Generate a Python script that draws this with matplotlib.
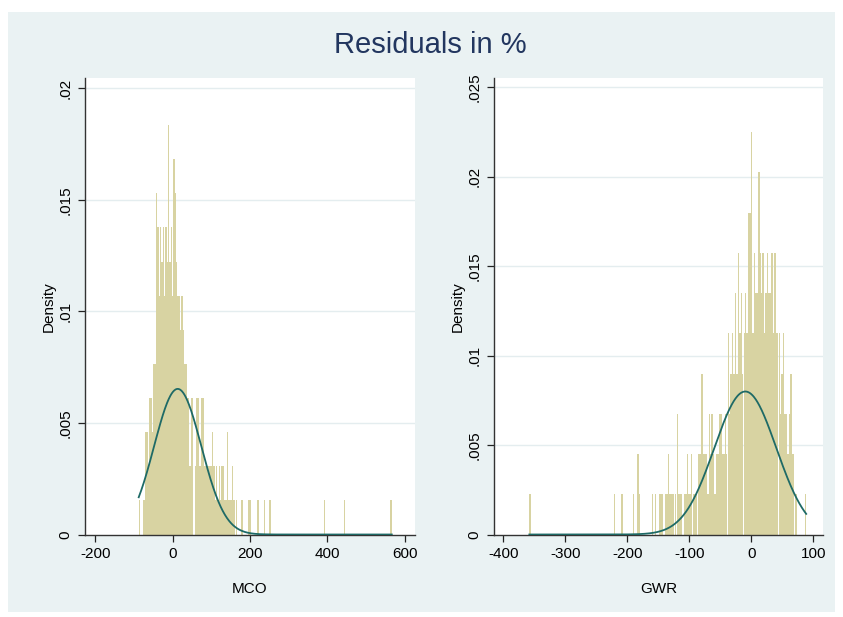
import numpy as np
import matplotlib
matplotlib.use("Agg")
import matplotlib.pyplot as plt
from matplotlib.patches import Rectangle

plt.rcParams['font.family'] = ['Liberation Sans', 'DejaVu Sans']

# ---------------- data ----------------
title = "Residuals in %"

# MCO residual histogram: first bin start, bin width, counts per bin
mco_start = -88.0
mco_width = 3.447
mco_unit = 0.00153          # density of one observation
mco_dense = [1, 0, 0, 1, 1, 3, 3, 2, 4, 4, 3, 5, 5,
             10, 9, 7, 9, 8, 9, 7, 9, 8, 12, 8, 9, 7, 11, 10, 8, 7, 7, 6, 7, 6,
             5, 5, 4, 4, 2, 4, 4, 0, 2, 4, 4, 2, 2, 4, 4, 2, 2, 2, 2, 2, 2, 3, 2,
             1, 2, 1, 2, 1, 2, 2, 1, 1, 3, 1, 1, 1, 2, 1]
mco_tail_bins = [73, 77, 82, 83, 89, 94, 98, 139, 154, 189]
mco_nbins = 190
mco_mean, mco_sd = 12.9, 61.1

# GWR residual histogram
gwr_start = -358.0
gwr_width = 2.35
gwr_unit = 0.00225
gwr_sparse_bins = [0, 58, 63, 71, 74, 75, 84, 86]
gwr_sparse_counts = [1, 1, 1, 1, 2, 1, 1, 1]
gwr_dense_first = 89
gwr_dense = [1, 1, 1, 0, 1, 1, 2, 1, 1, 1, 0, 1, 3, 1, 1, 1, 0, 1, 1, 2,
             1, 1, 2, 1, 1, 1, 0, 2, 2, 4, 2, 2, 2, 1, 3, 2, 3, 2, 1, 2,
             2, 3, 3, 2, 2, 3, 2, 5, 3, 4, 5, 4, 6, 4, 7, 5, 6, 4, 5, 6,
             5, 8, 8, 10, 5, 7, 6, 6, 9, 7, 6, 7, 5, 6, 7, 6, 6, 7, 5, 7,
             5, 5, 5, 3, 4, 5, 3, 3, 2, 3, 4, 2, 2, 1, 1, 0, 0, 0, 0, 0, 1]
gwr_nbins = 190
gwr_mean, gwr_sd = -9.7, 49.9

mco_xticks = [-200, 0, 200, 400, 600]
mco_yticks = [0, .005, .01, .015, .02]
mco_yticklabels = ["0", ".005", ".01", ".015", ".02"]
gwr_xticks = [-400, -300, -200, -100, 0, 100]
gwr_yticks = [0, .005, .01, .015, .02, .025]
gwr_yticklabels = ["0", ".005", ".01", ".015", ".02", ".025"]
xlabels = ["MCO", "GWR"]

# ---------------- build counts ----------------
mco_counts = np.zeros(mco_nbins)
mco_counts[:len(mco_dense)] = mco_dense
mco_counts[mco_tail_bins] += 1

gwr_counts = np.zeros(gwr_nbins)
gwr_counts[gwr_sparse_bins] = gwr_sparse_counts
gwr_counts[gwr_dense_first:gwr_dense_first + len(gwr_dense)] = gwr_dense

# ---------------- figure ----------------
W, H = 843, 617
fig = plt.figure(figsize=(W / 100, H / 100), dpi=100, facecolor='white')
bg = '#EAF2F3'
fig.patches.append(Rectangle((8 / W, 1 - 612 / H), (835 - 8) / W, (612 - 12) / H,
                             transform=fig.transFigure, facecolor=bg,
                             edgecolor='none', zorder=-10))

fig.text(430 / W, 1 - 45 / H, title, ha='center', va='center',
         fontsize=21, color='#22365f')

bar_color = '#D8D3A2'
line_color = '#1E6A66'
grid_color = '#E4EDEF'
ax_bottom = 1 - 534.5 / H
ax_height = (534.5 - 78) / H


def draw(ax, start, width, counts, unit, mean, sd, xlim, ylim, xticks, yticks,
         yticklabels, xlabel):
    ax.set_facecolor('white')
    lefts = start + width * np.arange(len(counts))
    heights = counts * unit
    mask = counts > 0
    ax.bar(lefts[mask], heights[mask], width=width * 0.97, align='edge',
           color=bar_color, edgecolor='none', linewidth=0, zorder=2)
    xs = np.linspace(start, start + width * len(counts), 600)
    ys = np.exp(-0.5 * ((xs - mean) / sd) ** 2) / (sd * np.sqrt(2 * np.pi))
    ax.plot(xs, ys, color=line_color, lw=1.3, zorder=3)
    for yt in yticks[1:]:
        ax.axhline(yt, color=grid_color, lw=1.0, zorder=1)
    ax.set_xlim(*xlim)
    ax.set_ylim(*ylim)
    ax.set_xticks(xticks)
    ax.set_xticklabels([str(t) for t in xticks])
    ax.set_yticks(yticks)
    ax.set_yticklabels(yticklabels, rotation=90, va='center')
    ax.tick_params(axis='both', length=5, width=0.9, color='#222222',
                   labelsize=11, labelcolor='black', pad=4)
    for s in ['top', 'right']:
        ax.spines[s].set_visible(False)
    for s in ['left', 'bottom']:
        ax.spines[s].set_color('#333333')
        ax.spines[s].set_linewidth(1.0)
    ax.set_xlabel(xlabel, fontsize=11, labelpad=15)
    ax.set_ylabel('Density', fontsize=11, labelpad=2)


ax1 = fig.add_axes([85 / W, ax_bottom, (415 - 85) / W, ax_height])
draw(ax1, mco_start, mco_width, mco_counts, mco_unit, mco_mean, mco_sd,
     (-227, 627), (0, 0.02047), mco_xticks, mco_yticks, mco_yticklabels, xlabels[0])

ax2 = fig.add_axes([494 / W, ax_bottom, (823 - 494) / W, ax_height])
draw(ax2, gwr_start, gwr_width, gwr_counts, gwr_unit, gwr_mean, gwr_sd,
     (-415, 115.6), (0, 0.02552), gwr_xticks, gwr_yticks, gwr_yticklabels, xlabels[1])

fig.savefig('out.png', dpi=100, facecolor='white')
